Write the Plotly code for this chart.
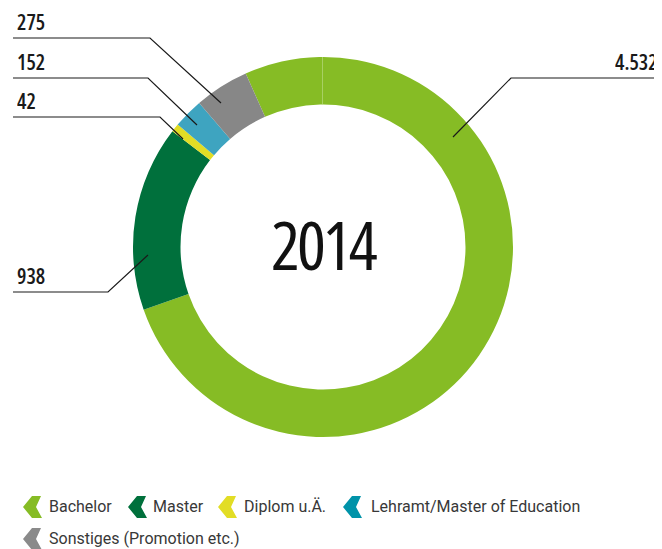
import plotly.graph_objects as go

# page is drawn with an 8px body margin, so the figure is a little smaller
OFF = 8
W, H = 662 - OFF, 549 - OFF

# data
categories = ["Bachelor", "Master", "Diplom u.Ä.", "Lehramt/Master of Education",
              "Sonstiges (Promotion etc.)"]
values = [4532, 938, 42, 152, 275]
value_labels = ["4.532", "938", "42", "152", "275"]
year = "2014"

slice_colors = ["#86bc25", "#00703c", "#e2dd25", "#3ea4c0", "#878787"]
legend_colors = ["#86bc25", "#00703c", "#e2dd25", "#0093a9", "#8a8a8a"]

NUM_FONT = "Open Sans"
TXT_FONT = "Roboto, sans-serif"


def px(x):
    return (x - OFF) / W


def py(y):
    return 1 - (y - OFF) / H


def condensed(s, spacing=0):
    return f'<span style="font-stretch:75%;letter-spacing:{spacing}px">{s}</span>'


fig = go.Figure()

fig.add_trace(go.Pie(
    labels=categories,
    values=values,
    sort=False,
    direction="clockwise",
    rotation=-24,
    hole=0.75,
    marker=dict(colors=slice_colors, line=dict(width=0)),
    textinfo="none",
    hoverinfo="label+value",
    showlegend=False,
    domain=dict(x=[px(133), px(513)], y=[py(437), py(57)]),
))

# leader lines: (label x, label anchor, line end x, elbow x, line y, tip x, tip y)
leaders = {
    "Bachelor": (659, "right", 662, 511, 78, 453, 137),
    "Master": (16, "left", 13, 108, 292, 148, 255),
    "Diplom u.Ä.": (16, "left", 13, 160, 117, 183, 139),
    "Lehramt/Master of Education": (16, "left", 13, 148, 78, 197, 125),
    "Sonstiges (Promotion etc.)": (16, "left", 13, 150, 38, 221, 103),
}

shapes = []
annotations = []
for cat, lab in zip(categories, value_labels):
    tx, anchor, x0, xe, ly, xt, yt = leaders[cat]
    shapes.append(dict(
        type="path", xref="paper", yref="paper",
        path=f"M {px(x0)} {py(ly)} L {px(xe)} {py(ly)} L {px(xt)} {py(yt)}",
        line=dict(color="#1a1a1a", width=1.2),
    ))
    annotations.append(dict(
        text=condensed(lab), xref="paper", yref="paper", x=px(tx), y=py(ly - 5),
        xanchor=anchor, yanchor="bottom", showarrow=False, borderpad=0,
        height=20,
        font=dict(family=NUM_FONT, size=21, color="#1a1a1a", weight=600),
    ))

# faint seam at the top of the ring
shapes.append(dict(type="line", xref="paper", yref="paper",
                   x0=px(322.5), x1=px(322.5), y0=py(57), y1=py(104),
                   line=dict(color="#a8d063", width=1)))

annotations.append(dict(
    text=condensed(year, -3), xref="paper", yref="paper", x=px(324), y=py(244),
    xanchor="center", yanchor="middle", showarrow=False,
    font=dict(family=NUM_FONT, size=68, color="#111111", weight=500),
))

# legend with chevron icons: (icon tip x, text x, row y)
legend_pos = [(23, 48, 507), (128, 152, 507), (218, 243, 507), (343, 370, 507),
              (23, 48, 539)]
for cat, col, (lx, tx, ly) in zip(categories, legend_colors, legend_pos):
    pts = [(lx + 9, ly - 11), (lx + 18, ly - 11), (lx + 13, ly), (lx + 19, ly + 11),
           (lx + 9, ly + 11), (lx, ly)]
    path = "M " + " L ".join(f"{px(a)} {py(b)}" for a, b in pts) + " Z"
    shapes.append(dict(type="path", xref="paper", yref="paper", path=path,
                       fillcolor=col, line=dict(width=0)))
    annotations.append(dict(
        text=cat, xref="paper", yref="paper", x=px(tx - 1), y=py(ly - 1),
        xanchor="left", yanchor="middle", showarrow=False,
        font=dict(family=TXT_FONT, size=16, color="#383838"),
    ))

fig.update_layout(
    width=W, height=H,
    margin=dict(l=0, r=0, t=0, b=0),
    paper_bgcolor="white",
    plot_bgcolor="white",
    shapes=shapes,
    annotations=annotations,
)

fig.write_html("out.html", config={"displayModeBar": False})
